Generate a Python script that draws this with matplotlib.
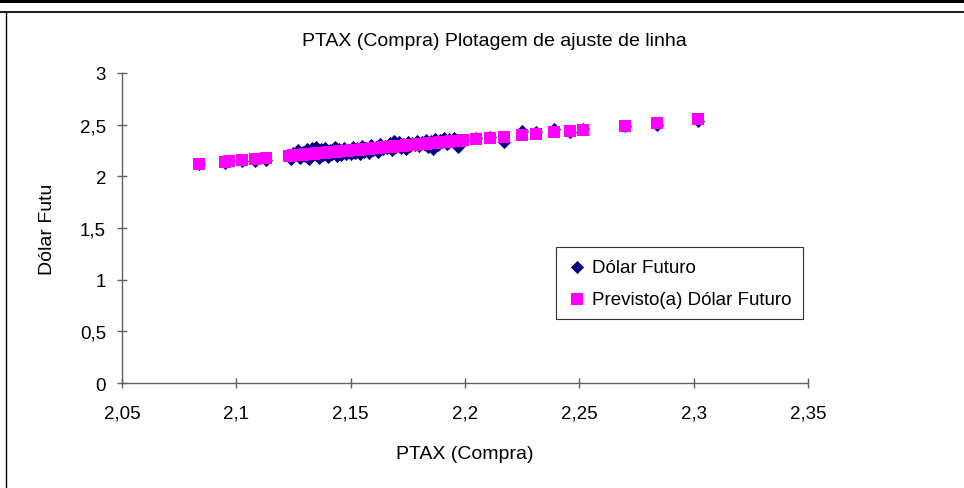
import numpy as np
import matplotlib
matplotlib.use('Agg')
import matplotlib.pyplot as plt
from matplotlib.ticker import FuncFormatter, MultipleLocator
from matplotlib.lines import Line2D
from matplotlib.patches import Rectangle


# PTAX (Compra) x Dolar Futuro
ptax = [2.0835, 2.095, 2.097, 2.1025, 2.108, 2.113,
        2.123, 2.124, 2.125, 2.126, 2.127, 2.128, 2.129, 2.130, 2.131, 2.132,
        2.133, 2.134, 2.135, 2.136, 2.137, 2.138, 2.139, 2.140, 2.141, 2.142,
        2.143, 2.144, 2.145, 2.146, 2.147, 2.148, 2.149, 2.150, 2.151, 2.152,
        2.153, 2.154, 2.155, 2.156, 2.157, 2.158, 2.159, 2.160, 2.161, 2.162,
        2.163, 2.164, 2.165, 2.166, 2.167, 2.168, 2.169, 2.170, 2.171, 2.172,
        2.173, 2.174, 2.175, 2.176, 2.177, 2.178, 2.179, 2.180, 2.181, 2.182,
        2.183, 2.184, 2.185, 2.186, 2.187, 2.188, 2.189, 2.190, 2.191, 2.192,
        2.193, 2.194, 2.195, 2.196, 2.197, 2.198, 2.199,
        2.205, 2.211, 2.217, 2.225, 2.231, 2.239, 2.246, 2.2515,
        2.270, 2.284, 2.302]
dolar_futuro = [2.12, 2.13, 2.15, 2.15, 2.15, 2.16,
                2.19, 2.17, 2.23, 2.21, 2.25, 2.18, 2.24, 2.20, 2.26, 2.17,
                2.27, 2.22, 2.28, 2.18, 2.26, 2.21, 2.27, 2.19, 2.25, 2.22,
                2.28, 2.20, 2.26, 2.21, 2.27, 2.22, 2.25, 2.22, 2.28, 2.23,
                2.27, 2.22, 2.29, 2.24, 2.27, 2.23, 2.30, 2.25, 2.28, 2.24,
                2.31, 2.26, 2.29, 2.27, 2.32, 2.25, 2.34, 2.28, 2.33, 2.27,
                2.31, 2.26, 2.33, 2.29, 2.32, 2.30, 2.34, 2.29, 2.33, 2.31,
                2.35, 2.28, 2.34, 2.26, 2.36, 2.30, 2.35, 2.33, 2.37, 2.31,
                2.36, 2.34, 2.37, 2.32, 2.28, 2.34, 2.35,
                2.37, 2.38, 2.33, 2.44, 2.43, 2.46, 2.43, 2.46,
                2.49, 2.50, 2.54]

x = np.array(ptax)
y = np.array(dolar_futuro)
# previsto = ajuste linear (regressao) de Dolar Futuro sobre PTAX
b, a = np.polyfit(x, y, 1)
previsto = a + b * x

plt.rcParams['font.family'] = ['Liberation Sans', 'DejaVu Sans']

fig = plt.figure(figsize=(9.64, 4.89), dpi=100)
ax = fig.add_axes([0.1266, 0.2147, 0.7114, 0.634])

ax.scatter(x, y, marker='D', s=45, color='#000080', linewidths=0, label='Dólar Futuro', zorder=3)
ax.scatter(x, previsto, marker='s', s=70, color='#FF00FF', linewidths=0,
           label='Previsto(a) Dólar Futuro', zorder=4)

ax.set_xlim(2.05, 2.35)
ax.set_ylim(0, 3)
ax.xaxis.set_major_locator(MultipleLocator(0.05))
ax.yaxis.set_major_locator(MultipleLocator(0.5))
fmt = FuncFormatter(lambda v, p: ('%g' % round(v, 3)).replace('.', ','))
ax.xaxis.set_major_formatter(fmt)
ax.yaxis.set_major_formatter(fmt)

for s in ['top', 'right']:
    ax.spines[s].set_visible(False)
for s in ['left', 'bottom']:
    ax.spines[s].set_color('#606060')
    ax.spines[s].set_linewidth(1.0)
ax.tick_params(direction='inout', length=7, width=1, color='#606060', labelsize=13.5)
ax.tick_params(axis='x', pad=12)
ax.tick_params(axis='y', pad=8)

fig.text(0.513, 1 - 41 / 489, 'PTAX (Compra) Plotagem de ajuste de linha', fontsize=14,
         ha='center', va='center')
ax.set_xlabel('PTAX (Compra)', fontsize=14, labelpad=17)
ax.set_ylabel('Dólar Futu', fontsize=14, labelpad=17)

leg = ax.legend(loc='lower left', bbox_to_anchor=(0.633, 0.206), fontsize=13.5,
                frameon=True, fancybox=False, borderpad=0.6, handletextpad=0.3,
                handlelength=1.0, labelspacing=0.8, borderaxespad=0)
leg.get_frame().set_edgecolor('black')
leg.get_frame().set_linewidth(0.8)

# page frame: thick bar on top, rule under it, left border
fig.add_artist(Rectangle((0, 1 - 4 / 489), 1, 4 / 489, transform=fig.transFigure,
                         color='black', lw=0))
fig.add_artist(Line2D([0, 1], [1 - 13 / 489, 1 - 13 / 489], transform=fig.transFigure,
                      color='#202020', lw=1.5))
fig.add_artist(Line2D([6 / 964, 6 / 964], [0, 1 - 13 / 489], transform=fig.transFigure,
                      color='black', lw=1.0))

fig.savefig('out.png', dpi=100)
